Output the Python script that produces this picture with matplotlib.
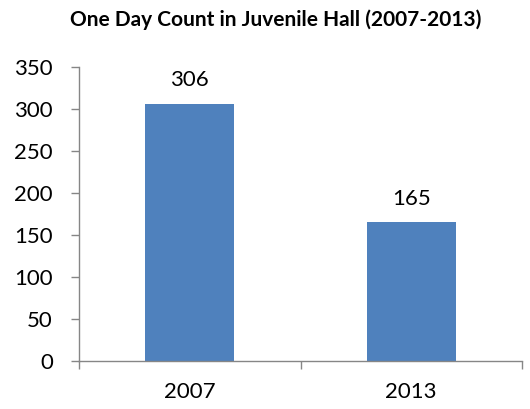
import matplotlib
matplotlib.use("Agg")
import matplotlib.pyplot as plt

categories = ["2007", "2013"]
values = [306, 165]
yticks = [0, 50, 100, 150, 200, 250, 300, 350]
title = "One Day Count in Juvenile Hall (2007-2013)"

plt.rcParams['font.family'] = ['Lato', 'DejaVu Sans']

fig = plt.figure(figsize=(5.3, 4.09), dpi=100)
ax = fig.add_axes([79/530, 1-361/409, (522-79)/530, (361-67)/409])

x = list(range(len(categories)))
ax.bar(x, values, width=0.40, color="#4F81BD", zorder=2)
for xi, v in zip(x, values):
    ax.annotate(str(v), (xi, v), xytext=(0, 10), textcoords="offset points",
                ha="center", va="bottom", fontsize=16, color="black")

ax.set_xlim(-0.5, len(categories) - 0.5)
ax.set_ylim(0, 350)
ax.set_yticks(yticks)
ax.set_yticklabels([str(t) for t in yticks], fontsize=16)
ax.set_xticks(x)
ax.set_xticklabels(categories, fontsize=16)
ax.tick_params(axis="x", length=0, pad=15)
ax.set_xticks([-0.5, 0.5, 1.5], minor=True)
ax.tick_params(axis="x", which="minor", length=5.8, color="#868686", width=1)
ax.tick_params(axis="y", length=5.8, color="#868686", width=1, pad=13)

for s in ["top", "right"]:
    ax.spines[s].set_visible(False)
for s in ["left", "bottom"]:
    ax.spines[s].set_color("#868686")
    ax.spines[s].set_linewidth(1)

fig.text(276/530, 1-20/409, title, ha="center", va="center", fontsize=15, fontweight="bold")

fig.savefig("out.png", dpi=100)
